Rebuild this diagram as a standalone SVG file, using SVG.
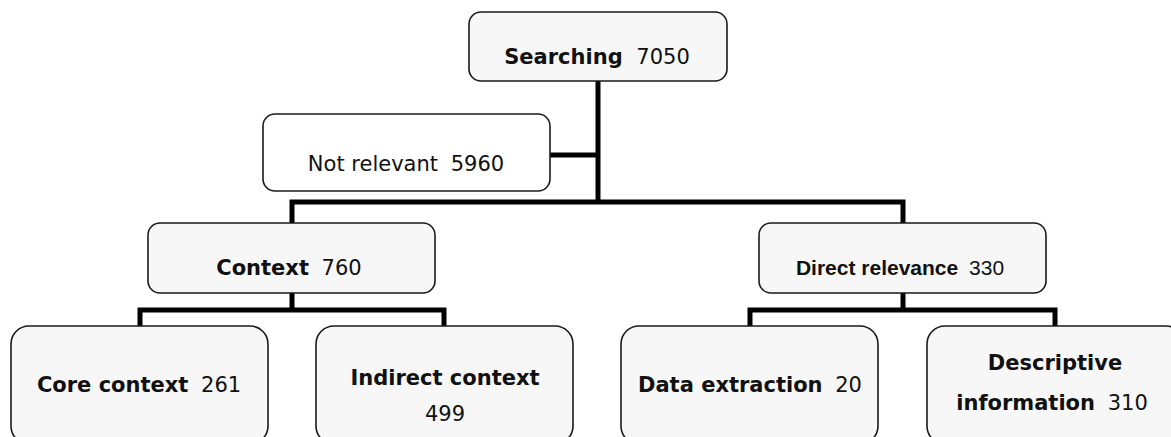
<svg xmlns="http://www.w3.org/2000/svg" width="1171" height="437" viewBox="0 0 1171 437">
  <style>
    .box { fill: #f7f7f7; stroke: #1a1a1a; stroke-width: 1.6; }
    .plain { fill: #ffffff; }
    .lbl { font-family: "DejaVu Sans", Verdana, sans-serif; font-size: 21px; fill: #111; text-anchor: middle; }
    .arial { font-family: "Liberation Sans", Arial, sans-serif; font-size: 21px; }
    .b { font-weight: bold; }
    .wire { fill: none; stroke: #000; stroke-width: 5; stroke-linejoin: miter; stroke-linecap: butt; }
  </style>

  <!-- tree connectors -->
  <g id="connectors">
    <path class="wire" d="M598 81 V204"/>
    <path class="wire" d="M550 155 H598"/>
    <path class="wire" d="M292 223 V202 H903 V223"/>
    <path class="wire" d="M292 293 V310"/>
    <path class="wire" d="M140 326 V310 H444 V326"/>
    <path class="wire" d="M903 293 V310"/>
    <path class="wire" d="M750 326 V310 H1055 V326"/>
  </g>

  <g id="searching">
    <rect class="box" x="469" y="12" width="258" height="69" rx="12"/>
    <text class="lbl" x="597" y="64"><tspan class="b">Searching</tspan><tspan dx="7"> 7050</tspan></text>
  </g>

  <g id="not-relevant">
    <rect class="box plain" x="263" y="114" width="287" height="77" rx="12"/>
    <text class="lbl" x="406" y="171">Not relevant<tspan dx="6"> 5960</tspan></text>
  </g>

  <g id="context">
    <rect class="box" x="148" y="223" width="287" height="70" rx="12"/>
    <text class="lbl" x="289" y="275"><tspan class="b">Context</tspan><tspan dx="6"> 760</tspan></text>
  </g>

  <g id="direct-relevance">
    <rect class="box" x="759" y="223" width="287" height="70" rx="12"/>
    <text class="lbl arial" x="900" y="275"><tspan class="b">Direct relevance</tspan><tspan dx="5"> 330</tspan></text>
  </g>

  <g id="core-context">
    <rect class="box" x="11" y="326" width="257" height="118" rx="18"/>
    <text class="lbl" x="139" y="392"><tspan class="b">Core context</tspan><tspan dx="6"> 261</tspan></text>
  </g>

  <g id="indirect-context">
    <rect class="box" x="316" y="326" width="257" height="118" rx="18"/>
    <text class="lbl b" x="445" y="385">Indirect context</text>
    <text class="lbl" x="445" y="421">499</text>
  </g>

  <g id="data-extraction">
    <rect class="box" x="621" y="326" width="257" height="118" rx="18"/>
    <text class="lbl" x="750" y="392"><tspan class="b">Data extraction</tspan><tspan dx="6"> 20</tspan></text>
  </g>

  <g id="descriptive-information">
    <rect class="box" x="927" y="326" width="257" height="118" rx="18"/>
    <text class="lbl b" x="1055" y="370">Descriptive</text>
    <text class="lbl" x="1052" y="410"><tspan class="b">information</tspan><tspan dx="6"> 310</tspan></text>
  </g>
</svg>
